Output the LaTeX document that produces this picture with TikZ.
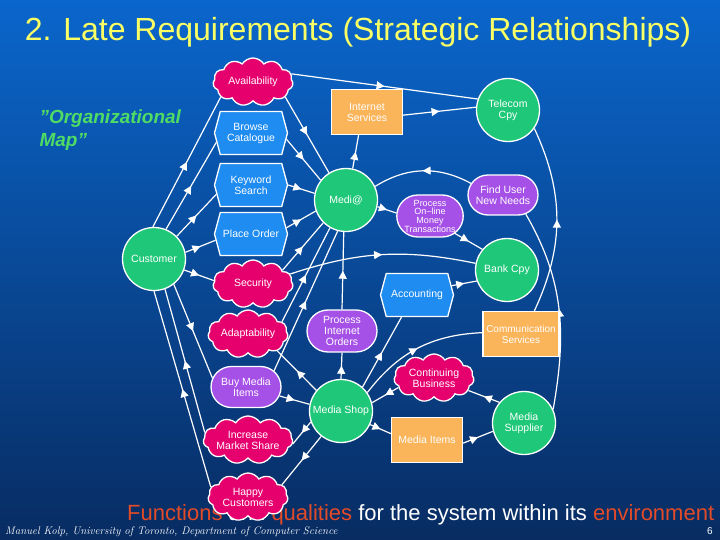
\documentclass[tikz,border=0pt]{standalone}
\usepackage{fontspec}
\newfontfamily\arialfont{Liberation Sans}
\usetikzlibrary{arrows.meta,decorations.markings,shapes.symbols,shapes.misc}

\definecolor{bgtop}{RGB}{10,102,204}
\definecolor{bgbottom}{RGB}{8,44,98}
\definecolor{actorgreen}{RGB}{30,200,120}
\definecolor{goalpink}{RGB}{230,0,110}
\definecolor{taskblue}{RGB}{30,140,240}
\definecolor{goalpurple}{RGB}{165,80,230}
\definecolor{resorange}{RGB}{250,180,90}
\definecolor{titleyellow}{RGB}{250,255,100}
\definecolor{mapgreen}{RGB}{80,220,100}
\definecolor{textred}{RGB}{225,75,40}

\pgfdeclarelayer{bg}
\pgfdeclarelayer{links}
\pgfsetlayers{bg,links,main}

\begin{document}
\begin{tikzpicture}[
    x=1pt, y=1pt,
    >={Triangle[width=8pt,length=8pt]},
    lbl/.style = {
      text = white,
      font = \arialfont\fontsize{10.5}{11}\selectfont,
      align = center,
      inner sep = 0pt
    },
    actor/.style = {lbl, circle, draw=white, line width=1.3pt, fill=actorgreen, minimum size=63pt},
    softgoal/.style = {lbl, cloud, cloud puffs=11, cloud puff arc=115, cloud ignores aspect,
      draw=white, line width=1.3pt, fill=goalpink, minimum width=80pt, minimum height=48pt},
    task/.style = {lbl, signal, signal to=west and east, signal pointer angle=150,
      draw=white, line width=1.3pt, fill=taskblue, minimum width=73pt, minimum height=43pt},
    goal/.style = {lbl, rounded rectangle, draw=white, line width=1.3pt, fill=goalpurple,
      minimum width=70pt, minimum height=41pt},
    resource/.style = {lbl, rectangle, draw=white, line width=1.3pt, fill=resorange,
      minimum width=71pt, minimum height=45pt},
    dep/.style = {
      draw = white,
      line width = 1.2pt,
      postaction = {decorate},
      decoration = {markings, mark=at position 0.5 with {\arrow{>}}}
    }
  ]
  \useasboundingbox (0,0) rectangle (720,-540);
  \begin{pgfonlayer}{bg}
    \shade[top color=bgtop, bottom color=bgbottom] (0,0) rectangle (720,-540);
  \end{pgfonlayer}

  % texts
  \node[font=\arialfont\fontsize{32}{32}\selectfont, text=titleyellow] (title) at (358,-32)
    {2. Late Requirements (Strategic Relationships)};
  \node[anchor=north west, align=left, text=mapgreen,
    font=\arialfont\bfseries\itshape\fontsize{19}{23}\selectfont] (map) at (36,-106)
    {”Organizational\\Map”};
  \node[anchor=base west, text=white, inner sep=0pt,
    font=\arialfont\fontsize{22}{22}\selectfont] (caption) at (127,-520)
    {\textcolor{textred}{Functions} and \textcolor{textred}{qualities} for the system within its \textcolor{textred}{environment}};
  \node[anchor=base west, text=white, inner sep=0pt, font=\itshape\fontsize{11}{11}\selectfont] (author) at (5,-534)
    {Manuel Kolp, University of Toronto, Department of Computer Science};
  \node[anchor=base east, text=white, inner sep=0pt, font=\arialfont\fontsize{10}{10}\selectfont] (page) at (713,-534) {6};

  % actors
  \node[actor] (cust)  at (154,-259) {Customer};
  \node[actor] (medi)  at (346,-200) {Medi@};
  \node[actor] (tel)   at (508,-110) {Telecom\\Cpy};
  \node[actor] (bank)  at (507,-270) {Bank Cpy};
  \node[actor] (mshop) at (341,-411) {Media Shop};
  \node[actor] (msup)  at (524,-423) {Media\\Supplier};

  % softgoals
  \node[softgoal] (avail) at (253,-82)  {Availability};
  \node[softgoal] (sec)   at (253,-284) {Security};
  \node[softgoal] (adapt) at (248,-334) {Adaptability};
  \node[softgoal] (ims)   at (248,-440) {Increase\\Market Share};
  \node[softgoal] (hc)    at (248,-497) {Happy\\Customers};
  \node[softgoal] (cb)    at (434,-378) {Continuing\\Business};

  % tasks
  \node[task] (bc)  at (251,-133) {Browse\\Catalogue};
  \node[task] (ks)  at (251,-185) {Keyword\\Search};
  \node[task] (po)  at (251,-234) {Place Order};
  \node[task] (acc) at (417,-295) {Accounting};

  % goals
  \node[goal, minimum width=65pt, minimum height=42pt,
    font=\arialfont\fontsize{9}{8.7}\selectfont] (pomt) at (430,-216)
    {Process\\On–line\\Money\\Transactions};
  \node[goal, minimum height=40pt] (funn) at (503,-195) {Find User\\New Needs};
  \node[goal, minimum height=42pt] (pio)  at (342,-331) {Process\\Internet\\Orders};
  \node[goal] (bmi) at (246,-387) {Buy Media\\Items};

  % resources
  \node[resource] (is) at (367,-112) {Internet\\Services};
  \node[resource, minimum width=76pt, font=\arialfont\fontsize{10}{11}\selectfont] (cs) at (521,-334) {Communication\\Services};
  \node[resource] (mi) at (427,-440) {Media Items};

  \begin{pgfonlayer}{links}
    \draw[dep] (cust.92) -- (avail.205);
    \draw[dep] (cust.68) -- (bc.195);
    \draw[dep] (cust.45) -- (ks.195);
    \draw[dep] (cust.12) -- (po.190);
    \draw[dep] (cust.-20) -- (sec.175);
    \draw[dep] (cust.-52) -- (bmi.165);
    \draw[dep] (ims.170) -- (cust.-70);
    \draw[dep] (hc.165) -- (cust.-90);

    \draw[dep] (avail.-25) -- (medi.122);
    \draw[dep] (bc.-10) -- (medi.142);
    \draw[dep] (ks.east) -- (medi.168);
    \draw[dep] (po.10) -- (medi.200);
    \draw[dep] (sec.25) -- (medi.225);
    \draw[dep] (adapt.20) -- (medi.240);
    \draw[dep] (bmi.30) -- (medi.255);
    \draw[dep] (medi.78) -- (is.-110);
    \draw[dep] (avail.12) -- (tel.160);
    \draw[dep] (is.-5) -- (tel.175);
    \draw[dep] (medi.-12) -- (pomt.175);
    \draw[dep] (pomt.-35) -- (bank.140);
    \draw[dep] (funn.160) to[bend right=30] (medi.25);
    \draw[dep] (pio.north) -- (medi.-94);
    \draw[dep] (mshop.north) -- (pio.south);

    \draw[dep] (cs.60) to[out=65, in=-65] (tel.-35);
    \draw[dep] (msup.25) to[out=80, in=-60] (funn.-40);
    \draw[dep] (sec.15) to[bend left=15] (bank.168);
    \draw[dep] (acc.15) -- (bank.200);
    \draw[dep] (mshop.48) -- (acc.235);
    \draw[dep] (mshop.35) to[bend left=25] (cs.178);
    \draw[dep] (cb.195) -- (mshop.15);
    \draw[dep] (msup.140) -- (cb.-20);
    \draw[dep] (mshop.-25) -- (mi.170);
    \draw[dep] (mi.-5) -- (msup.195);
    \draw[dep] (mshop.140) -- (adapt.-30);
    \draw[dep] (bmi.-15) -- (mshop.168);
    \draw[dep] (mshop.200) -- (ims.-5);
    \draw[dep] (mshop.232) -- (hc.20);
  \end{pgfonlayer}
\end{tikzpicture}
\end{document}
